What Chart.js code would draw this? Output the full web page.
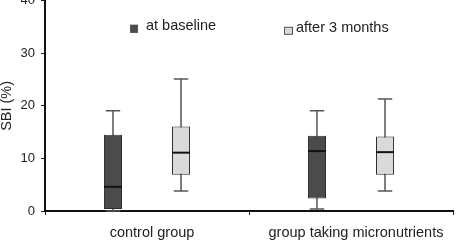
<!DOCTYPE html>
<html>
<head>
<meta charset="utf-8">
<script src="https://cdn.jsdelivr.net/npm/chart.js@4.4.1/dist/chart.umd.min.js"></script>
<style>
  html, body { margin: 0; padding: 0; background: #fff; }
  #wrap { position: relative; width: 457px; height: 244px; overflow: hidden; }
  #chart { position: absolute; left: 0; top: -13px; }
</style>
</head>
<body>
<div id="wrap"><canvas id="chart" width="457" height="257"></canvas></div>
<script>
const categories = ["control group", "group taking micronutrients"];
const seriesNames = ["at baseline", "after 3 months"];
const seriesColors = ["#4b4b4b", "#dadada"];
const yTicks = [0, 10, 20, 30, 40];

// box plot stats per category
const baselineMin = [0, 0.4];
const baselineQ1 = [0.4, 2.4];
const baselineMedian = [4.6, 11.4];
const baselineQ3 = [14.5, 14.3];
const baselineMax = [19.1, 19.1];

const afterMin = [3.8, 3.8];
const afterQ1 = [6.9, 6.9];
const afterMedian = [11.1, 11.2];
const afterQ3 = [16.1, 14.2];
const afterMax = [25.1, 21.3];

const FONT = "'Liberation Sans', Arial, sans-serif";
const TEXT = "#222";

function boxDataset(label, color, q1, q3, min, median, max) {
  return {
    label: label,
    data: q1.map((v, i) => [v, q3[i]]),
    backgroundColor: color,
    borderColor: "#2e2e2e",
    borderWidth: 1,
    borderSkipped: false,
    stats: { min: min, median: median, max: max },
  };
}

const boxPlugin = {
  id: "boxWhiskers",
  beforeDatasetsDraw(chart) {
    const ctx = chart.ctx;
    const y = chart.scales.y;
    chart.data.datasets.forEach((ds, d) => {
      chart.getDatasetMeta(d).data.forEach((bar, i) => {
        const yMin = y.getPixelForValue(ds.stats.min[i]);
        const yMax = y.getPixelForValue(ds.stats.max[i]);
        const cap = bar.width * 0.8;
        ctx.save();
        ctx.strokeStyle = "#555";
        ctx.lineWidth = 1.5;
        ctx.beginPath();
        ctx.moveTo(bar.x, yMax);
        ctx.lineTo(bar.x, yMin);
        ctx.moveTo(bar.x - cap / 2, yMax);
        ctx.lineTo(bar.x + cap / 2, yMax);
        ctx.moveTo(bar.x - cap / 2, yMin);
        ctx.lineTo(bar.x + cap / 2, yMin);
        ctx.stroke();
        ctx.restore();
      });
    });
  },
  afterDatasetsDraw(chart) {
    const ctx = chart.ctx;
    const y = chart.scales.y;
    chart.data.datasets.forEach((ds, d) => {
      chart.getDatasetMeta(d).data.forEach((bar, i) => {
        const ym = y.getPixelForValue(ds.stats.median[i]);
        ctx.save();
        ctx.strokeStyle = "#111";
        ctx.lineWidth = 2;
        ctx.beginPath();
        ctx.moveTo(bar.x - bar.width / 2, ym);
        ctx.lineTo(bar.x + bar.width / 2, ym);
        ctx.stroke();
        ctx.restore();
      });
    });

    // legend inside the plot
    const a = chart.chartArea;
    const items = [
      { sx: 130, sy: a.top + 24, sw: 8, sh: 8, tx: 146, ty: a.top + 25 },
      { sx: 284, sy: a.top + 26, sw: 9, sh: 8, tx: 296, ty: a.top + 27 },
    ];
    ctx.save();
    ctx.font = "14.5px " + FONT;
    ctx.textBaseline = "middle";
    items.forEach((it, k) => {
      ctx.fillStyle = seriesColors[k];
      ctx.fillRect(it.sx, it.sy, it.sw, it.sh);
      ctx.strokeStyle = "#555";
      ctx.lineWidth = 1;
      ctx.strokeRect(it.sx + 0.5, it.sy + 0.5, it.sw - 1, it.sh - 1);
      ctx.fillStyle = TEXT;
      ctx.fillText(seriesNames[k], it.tx, it.ty);
    });
    ctx.restore();
  },
};

new Chart(document.getElementById("chart"), {
  type: "bar",
  data: {
    labels: categories,
    datasets: [
      boxDataset(seriesNames[0], seriesColors[0], baselineQ1, baselineQ3, baselineMin, baselineMedian, baselineMax),
      boxDataset(seriesNames[1], seriesColors[1], afterQ1, afterQ3, afterMin, afterMedian, afterMax),
    ],
  },
  options: {
    responsive: false,
    animation: false,
    categoryPercentage: 0.667,
    barPercentage: 0.265,
    layout: { padding: { top: 9, right: 4, left: 0, bottom: 0 } },
    plugins: {
      legend: { display: false },
      tooltip: { enabled: false },
    },
    scales: {
      x: {
        grid: {
          offset: true,
          drawOnChartArea: false,
          tickLength: 4,
          color: "#222",
        },
        border: { color: "#111", width: 2 },
        ticks: {
          color: TEXT,
          font: { family: FONT, size: 14.5 },
          padding: 9,
          labelOffset: 5,
        },
        afterFit(scale) { scale.height = 33; },
      },
      y: {
        min: 0,
        max: 40,
        afterBuildTicks(scale) { scale.ticks = yTicks.map(v => ({ value: v })); },
        grid: {
          drawOnChartArea: false,
          tickLength: 4,
          color: "#222",
        },
        border: { color: "#111", width: 2 },
        ticks: {
          color: TEXT,
          font: { family: FONT, size: 13 },
          padding: 6,
        },
        title: {
          display: true,
          text: "SBI (%)",
          color: TEXT,
          font: { family: FONT, size: 14.5 },
          padding: { top: -2, bottom: 0 },
        },
        afterFit(scale) { scale.width = 45; },
      },
    },
  },
  plugins: [boxPlugin],
});
</script>
</body>
</html>
